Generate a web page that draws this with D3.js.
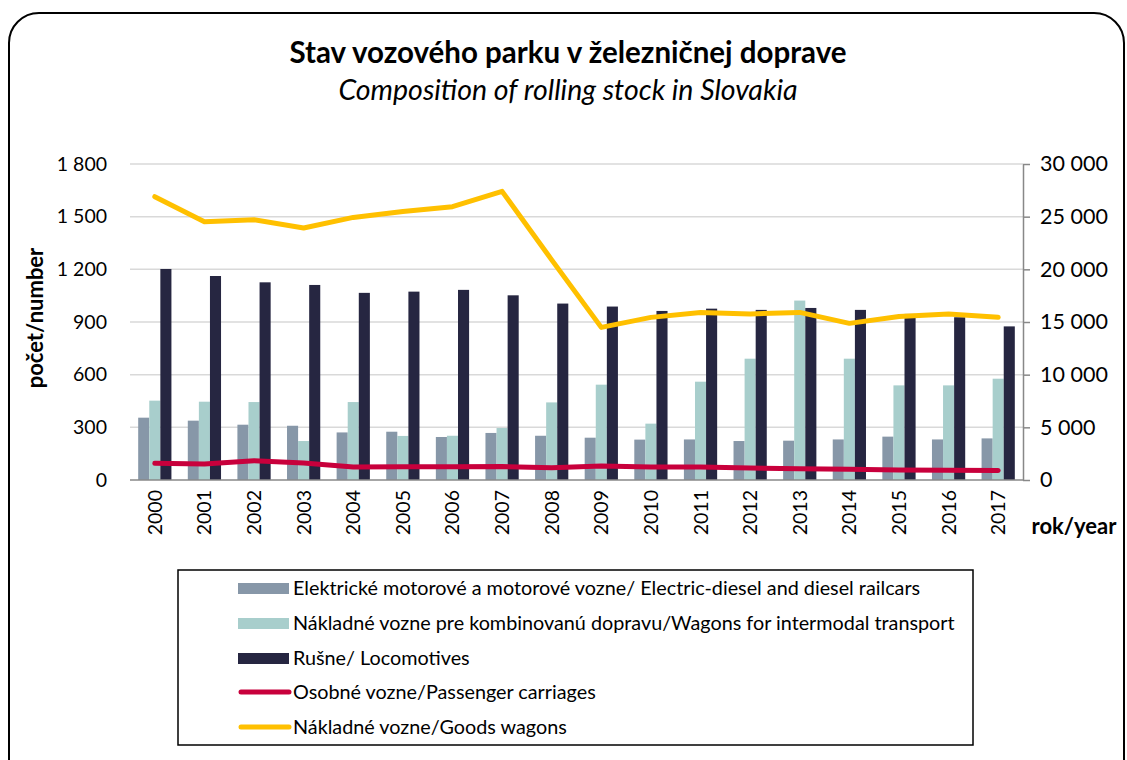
<!DOCTYPE html>
<html>
<head>
<meta charset="utf-8">
<script src="https://cdn.jsdelivr.net/npm/d3@7"></script>
<style>
  body { margin: 0; background: #fff; }
  svg { display: block; font-family: Lato, "Open Sans", sans-serif; }
</style>
</head>
<body>
<div id="chart"></div>
<script>
// rolling stock data
const years = ["2000","2001","2002","2003","2004","2005","2006","2007","2008","2009",
               "2010","2011","2012","2013","2014","2015","2016","2017"];
const railcars = [355, 338, 315, 309, 271, 275, 245, 268, 252, 241, 230, 231, 222, 224, 231, 247, 231, 237];
const intermodal = [452, 446, 444, 222, 444, 251, 252, 296, 442, 543, 321, 560, 691, 1022, 691, 539, 539, 577];
const locomotives = [1202, 1162, 1126, 1111, 1066, 1073, 1083, 1052, 1005, 988, 963, 976, 969, 980, 969, 946, 927, 875];
const passenger = [1580, 1520, 1830, 1610, 1230, 1260, 1260, 1280, 1170, 1330, 1230, 1230, 1140, 1070, 1010, 950, 930, 900];
const goods = [26900, 24520, 24710, 23920, 24930, 25500, 25950, 27400, 20900, 14490, 15440, 15910, 15760, 15910, 14870, 15530, 15760, 15440];

const leftTicks = [0, 300, 600, 900, 1200, 1500, 1800];
const rightTicks = [0, 5000, 10000, 15000, 20000, 25000, 30000];

const barSeries = [
    {name: "Elektrické motorové a motorové vozne/ Electric-diesel and diesel railcars", values: railcars, color: "#8797a8"},
    {name: "Nákladné vozne pre kombinovanú dopravu/Wagons for intermodal transport", values: intermodal, color: "#a8cecc"},
    {name: "Rušne/ Locomotives", values: locomotives, color: "#262641"}
];
const lineSeries = [
    {name: "Osobné vozne/Passenger carriages", values: passenger, color: "#c8003c"},
    {name: "Nákladné vozne/Goods wagons", values: goods, color: "#ffc000"}
];

const W = 1127, H = 760;
const fmt = d => d3.format(",")(d).replace(/,/g, " ");

const svg = d3.select("#chart").append("svg")
    .attr("width", W)
    .attr("height", H);

// rounded frame
svg.append("rect")
    .attr("x", 9).attr("y", 13)
    .attr("width", 1115).attr("height", 800)
    .attr("rx", 30).attr("ry", 30)
    .attr("fill", "#fff")
    .attr("stroke", "#000")
    .attr("stroke-width", 2);

svg.append("text")
    .attr("x", 568).attr("y", 63)
    .attr("text-anchor", "middle")
    .style("font-size", "29.5px").style("font-weight", "bold")
    .text("Stav vozového parku v železničnej doprave");

svg.append("text")
    .attr("x", 568).attr("y", 100)
    .attr("text-anchor", "middle")
    .style("font-size", "28.5px").style("font-style", "italic")
    .text("Composition of rolling stock in Slovakia");

const plot = {left: 130, right: 1023, top: 164, bottom: 480};

const x = d3.scaleBand()
    .domain(years)
    .range([plot.left, plot.right]);

const yLeft = d3.scaleLinear().domain([0, 1800]).range([plot.bottom, plot.top]);
const yRight = d3.scaleLinear().domain([0, 30000]).range([plot.bottom, plot.top]);

// gridlines
svg.append("g")
    .selectAll("line")
    .data(leftTicks.slice(1))
    .join("line")
    .attr("x1", plot.left).attr("x2", plot.right)
    .attr("y1", d => yLeft(d)).attr("y2", d => yLeft(d))
    .attr("stroke", "#d9d9d9")
    .attr("stroke-width", 1.5);

// left axis labels
const leftAxis = svg.append("g")
    .attr("transform", `translate(${plot.left},0)`)
    .call(d3.axisLeft(yLeft).tickValues(leftTicks).tickFormat(fmt).tickSize(0).tickPadding(23));
leftAxis.select(".domain").remove();
leftAxis.selectAll("text").style("font-size", "19.5px").style("fill", "#000")
    .style("font-family", "Lato, sans-serif");

// right axis
const rightAxis = svg.append("g")
    .attr("transform", `translate(${plot.right},0)`)
    .call(d3.axisRight(yRight).tickValues(rightTicks).tickFormat(fmt).tickSize(7).tickSizeOuter(0).tickPadding(10));
rightAxis.select(".domain").attr("stroke", "#888").attr("stroke-width", 1.5);
rightAxis.selectAll("line").attr("stroke", "#888").attr("stroke-width", 1.5);
rightAxis.selectAll("text").style("font-size", "21.5px").style("fill", "#000")
    .style("font-family", "Lato, sans-serif");

// bars
const inner = d3.scaleBand()
    .domain(d3.range(barSeries.length))
    .range([0, x.bandwidth() * 0.67]);
const groupOffset = (x.bandwidth() - inner.range()[1]) / 2;

barSeries.forEach((s, i) => {
    svg.append("g")
        .selectAll("rect")
        .data(s.values)
        .join("rect")
        .attr("x", (d, j) => x(years[j]) + groupOffset + inner(i))
        .attr("width", inner.bandwidth())
        .attr("y", d => yLeft(d))
        .attr("height", d => plot.bottom - yLeft(d))
        .attr("fill", s.color);
});

// baseline
svg.append("line")
    .attr("x1", plot.left).attr("x2", plot.right)
    .attr("y1", plot.bottom).attr("y2", plot.bottom)
    .attr("stroke", "#888").attr("stroke-width", 1.5);

// lines on right axis
const line = d3.line()
    .x((d, j) => x(years[j]) + x.bandwidth() / 2)
    .y(d => yRight(d));

lineSeries.forEach(s => {
    svg.append("path")
        .datum(s.values)
        .attr("fill", "none")
        .attr("stroke", s.color)
        .attr("stroke-width", 5)
        .attr("stroke-linecap", "round")
        .attr("stroke-linejoin", "round")
        .attr("d", line);
});

// x labels
svg.append("g")
    .selectAll("text")
    .data(years)
    .join("text")
    .attr("transform", d => `translate(${x(d) + x.bandwidth() / 2 + 7},${plot.bottom + 10}) rotate(-90)`)
    .attr("text-anchor", "end")
    .style("font-size", "19.5px")
    .text(d => d);

svg.append("text")
    .attr("transform", "translate(43,318) rotate(-90)")
    .attr("text-anchor", "middle")
    .style("font-size", "22px").style("font-weight", "bold")
    .text("počet/number");

svg.append("text")
    .attr("x", 1074).attr("y", 534)
    .attr("text-anchor", "middle")
    .style("font-size", "22px").style("font-weight", "bold")
    .text("rok/year");

// legend
const legend = svg.append("g");
legend.append("rect")
    .attr("x", 178).attr("y", 570)
    .attr("width", 795).attr("height", 175)
    .attr("fill", "#fff")
    .attr("stroke", "#000").attr("stroke-width", 1.5);

const rowY = [588, 623, 658, 692, 727];
barSeries.forEach((s, i) => {
    legend.append("rect")
        .attr("x", 238).attr("y", rowY[i] - 5)
        .attr("width", 51).attr("height", 11)
        .attr("fill", s.color);
});
lineSeries.forEach((s, i) => {
    legend.append("line")
        .attr("x1", 241).attr("x2", 289)
        .attr("y1", rowY[i + 3]).attr("y2", rowY[i + 3])
        .attr("stroke", s.color).attr("stroke-width", 5)
        .attr("stroke-linecap", "round");
});
legend.selectAll("text.leg")
    .data(barSeries.concat(lineSeries))
    .join("text")
    .attr("class", "leg")
    .attr("x", 293)
    .attr("y", (d, i) => rowY[i] + 7)
    .style("font-size", "19.8px")
    .text(d => d.name);
</script>
</body>
</html>
